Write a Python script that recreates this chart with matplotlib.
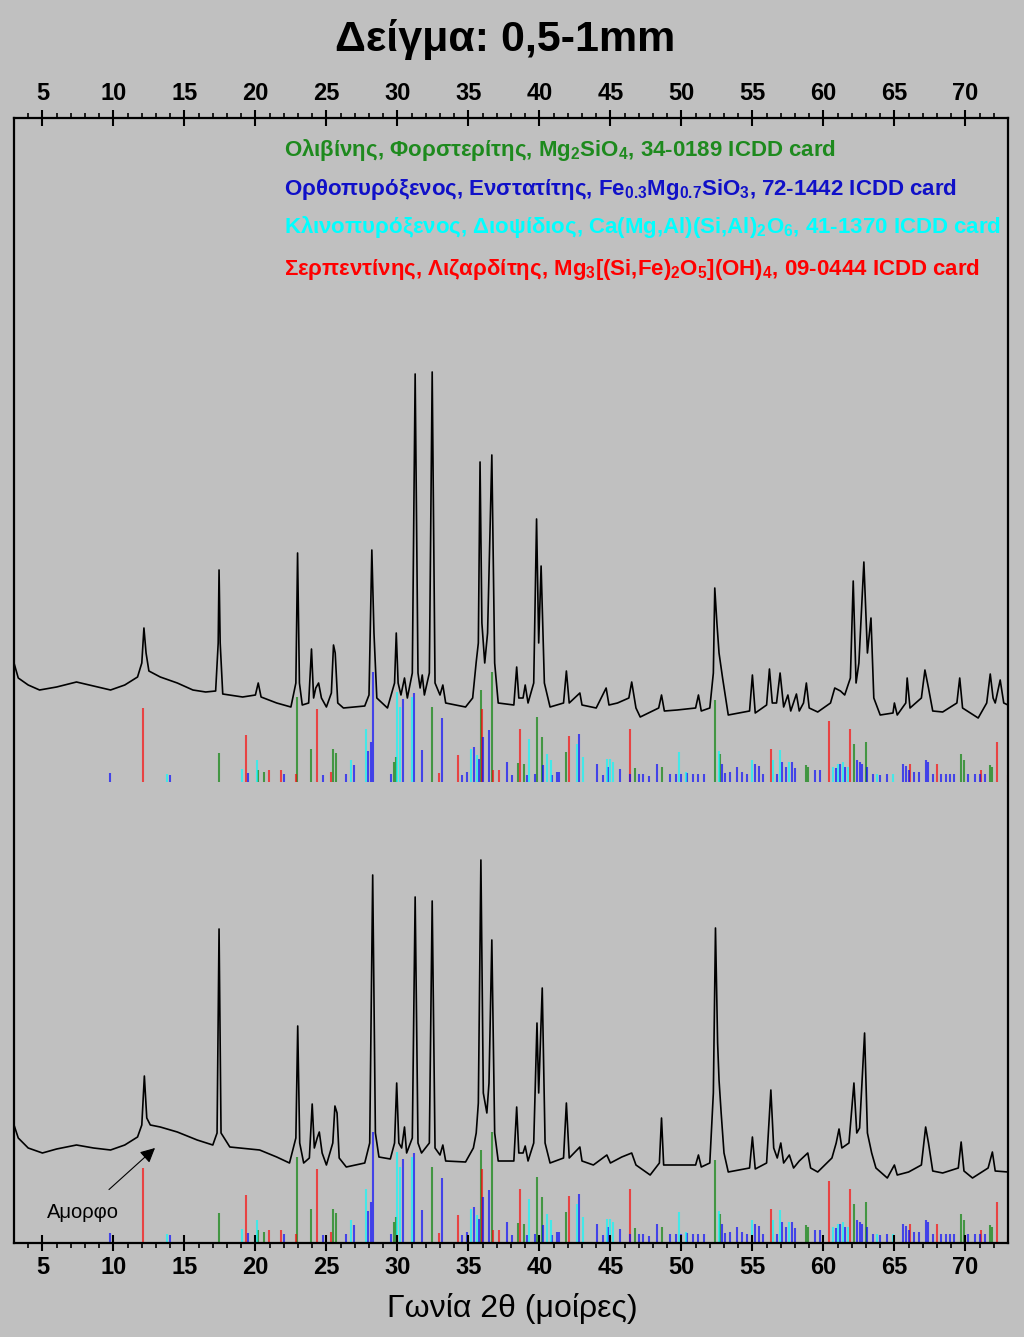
import numpy as np
from matplotlib import pyplot as plt

plt.rcParams['font.family'] = ['Liberation Sans', 'DejaVu Sans']
plt.rcParams['mathtext.default'] = 'regular'

# Diffractogram, top sample (2theta in deg, intensity in arbitrary units)
tth_top = [3.0, 3.3, 4.0, 4.8, 6.0, 7.4, 8.6, 9.8, 10.8, 11.7, 12.0, 12.15, 12.3, 12.5,
           13.3, 14.5, 15.6, 16.5, 17.2, 17.38, 17.44, 17.52, 17.7, 19.1, 20.0, 20.2, 20.4,
           21.5, 22.5, 22.85, 22.97, 23.1, 23.3, 23.75, 23.95, 24.1, 24.25, 24.45, 24.65,
           25.0, 25.35, 25.5, 25.62, 25.8, 26.2, 27.7, 28.0, 28.2, 28.35, 28.55, 29.3, 29.8,
           29.92, 30.05, 30.25, 30.5, 30.7, 31.05, 31.25, 31.45, 31.6, 31.75, 31.9, 32.25,
           32.45, 32.65, 33.0, 33.2, 33.4, 34.8, 35.3, 35.55, 35.7, 35.82, 35.95, 36.15,
           36.35, 36.65, 36.85, 37.1, 38.2, 38.4, 38.55, 38.85, 39.0, 39.2, 39.6, 39.8,
           39.95, 40.12, 40.35, 40.75, 41.7, 41.9, 42.1, 42.85, 43.0, 44.0, 44.7, 44.9,
           45.5, 46.3, 46.5, 46.8, 47.1, 48.4, 48.6, 48.8, 49.7, 51.0, 51.2, 51.4, 52.0,
           52.25, 52.35, 52.5, 52.65, 52.9, 53.3, 54.8, 55.0, 55.2, 56.0, 56.2, 56.4, 56.7,
           56.95, 57.2, 57.5, 57.7, 58.1, 58.3, 58.6, 58.8, 59.0, 59.6, 60.5, 60.8, 61.2,
           61.5, 61.9, 62.1, 62.3, 62.5, 62.85, 63.1, 63.35, 63.55, 64.0, 64.9, 65.0, 65.2,
           65.8, 65.9, 66.1, 66.9, 67.15, 67.4, 67.7, 68.4, 69.4, 69.6, 69.8, 70.9, 71.5,
           71.75, 71.95, 72.1, 72.45, 72.7, 73.0]
int_top = [580, 565, 558, 553, 556, 561, 557, 553, 558, 566, 580, 615, 590, 572,
           566, 560, 553, 551, 552, 600, 673, 600, 549, 546, 548, 560, 546,
           540, 536, 560, 690, 560, 538, 540, 594, 545, 555, 560, 545,
           536, 550, 598, 590, 540, 535, 537, 548, 693, 610, 545, 535, 560,
           610, 560, 548, 565, 545, 570, 869, 570, 555, 568, 548, 570,
           871, 560, 548, 558, 540, 536, 545, 581, 600, 781, 620, 580,
           610, 788, 580, 540, 538, 576, 545, 545, 558, 540, 560, 724,
           600, 677, 560, 536, 540, 572, 540, 550, 538, 535, 555, 538,
           540, 545, 561, 535, 526, 535, 548, 532, 533, 535, 548, 532, 535,
           570, 655, 620, 590, 565, 528, 532, 568, 530, 538, 574, 540, 540,
           570, 536, 548, 532, 549, 532, 540, 560, 535, 531, 540, 555, 552,
           548, 565, 662, 560, 580, 681, 590, 625, 545, 528, 530, 540, 528,
           540, 565, 535, 545, 573, 555, 532, 531, 540, 565, 535, 525, 540,
           569, 545, 540, 563, 540, 538]

# Diffractogram, bottom sample
tth_bot = [3.0, 3.3, 4.0, 5.0, 6.0, 7.4, 8.6, 9.8, 10.8, 11.7, 12.0, 12.18, 12.35, 12.6,
           13.3, 14.5, 15.9, 17.0, 17.3, 17.44, 17.58, 18.2, 20.3, 21.5, 22.4, 22.85, 22.98,
           23.12, 23.4, 23.8, 24.0, 24.15, 24.35, 24.5, 24.7, 25.0, 25.45, 25.6, 25.75, 25.9,
           26.4, 27.7, 28.05, 28.26, 28.45, 28.7, 29.5, 29.8, 29.95, 30.1, 30.3, 30.5, 30.65,
           31.05, 31.25, 31.45, 31.7, 32.25, 32.45, 32.65, 33.0, 33.2, 33.4, 34.8, 35.35,
           35.55, 35.7, 35.88, 36.05, 36.3, 36.45, 36.65, 36.85, 37.1, 38.2, 38.4, 38.55,
           38.85, 39.0, 39.2, 39.6, 39.83, 39.95, 40.2, 40.4, 40.75, 41.7, 41.9, 42.1, 42.85,
           43.0, 43.8, 44.75, 45.0, 45.8, 46.5, 46.8, 47.8, 48.45, 48.6, 48.75, 49.7, 51.0,
           51.2, 51.4, 52.0, 52.25, 52.4, 52.55, 52.65, 52.8, 53.0, 53.3, 54.8, 55.0, 55.2,
           56.0, 56.3, 56.5, 56.75, 57.0, 57.2, 57.6, 57.9, 58.3, 58.9, 59.1, 59.6, 60.6,
           60.9, 61.1, 61.3, 61.8, 62.15, 62.35, 62.55, 62.9, 63.1, 63.4, 63.7, 64.5, 65.0,
           65.2, 66.0, 66.9, 67.2, 67.4, 67.7, 68.4, 69.5, 69.7, 69.9, 70.5, 71.6, 71.9,
           72.1, 73.0]
int_bot = [118, 105, 95, 90, 94, 98, 95, 93, 98, 106, 118, 167, 125, 118,
           116, 111, 103, 98, 110, 314, 110, 96, 93, 86, 80, 105, 217,
           100, 80, 85, 139, 95, 105, 111, 90, 78, 100, 137, 130, 85,
           76, 80, 100, 368, 110, 86, 84, 100, 160, 100, 95, 116, 90,
           105, 346, 100, 90, 100, 342, 95, 88, 98, 82, 81, 95,
           110, 140, 383, 150, 130, 160, 303, 110, 82, 82, 136, 90,
           90, 97, 82, 100, 220, 150, 255, 100, 80, 85, 140, 85, 96,
           82, 78, 88, 80, 86, 90, 78, 68, 80, 125, 78, 78, 78,
           88, 76, 80, 150, 315, 200, 163, 130, 90, 71, 75, 106, 74,
           80, 153, 95, 85, 100, 80, 88, 75, 82, 90, 75, 71, 85,
           100, 114, 95, 100, 160, 110, 115, 210, 110, 90, 75, 65, 78,
           68, 71, 78, 116, 100, 72, 70, 75, 101, 72, 65, 75, 91,
           72, 71]

# ICDD reference lines (position, relative height)
fo_pos = [17.44, 20.2, 20.6, 22.95, 23.94, 25.49, 25.68, 29.76, 29.9, 32.44, 35.86, 36.66,
          38.47, 38.9, 39.82, 40.16, 41.9, 46.7, 48.65, 52.39, 52.75, 58.8, 58.95, 62.18,
          62.98, 69.7, 69.9, 71.76, 71.9]
fo_int = [29, 12, 10, 85, 33, 33, 29, 20, 25, 75, 92, 110,
          19, 18, 65, 45, 30, 14, 15, 82, 28, 17, 15, 38,
          40, 28, 22, 17, 15]
en_pos = [9.76, 14.0, 19.5, 22.0, 24.74, 26.4, 26.94, 27.95, 28.12, 28.26, 29.53, 30.37,
          31.17, 31.76, 33.14, 34.57, 34.9, 35.37, 35.77, 36.0, 36.43, 37.7, 38.1, 39.1,
          39.68, 40.25, 40.9, 41.25, 41.4, 42.8, 44.08, 44.5, 44.8, 45.7, 46.4, 47.0, 47.3,
          47.7, 48.3, 49.2, 49.6, 50.0, 50.4, 50.8, 51.2, 51.6, 52.84, 53.07, 53.4, 53.9,
          54.25, 54.6, 55.2, 55.5, 55.77, 56.7, 57.1, 57.4, 57.77, 58.0, 59.4, 59.76, 60.9,
          61.2, 61.5, 62.4, 62.55, 62.7, 63.1, 63.5, 64.0, 64.5, 65.6, 65.8, 66.0, 66.4,
          66.7, 67.2, 67.4, 67.7, 68.3, 68.6, 68.9, 69.2, 70.2, 70.7, 71.0, 71.4]
en_int = [9, 7, 9, 8, 7, 8, 17, 31, 40, 110, 8, 83,
          89, 32, 64, 7, 10, 35, 23, 45, 52, 20, 7, 7,
          8, 17, 7, 10, 10, 48, 18, 7, 15, 13, 8, 8, 8,
          6, 18, 8, 8, 8, 9, 8, 8, 8, 18, 9, 10, 15,
          10, 8, 18, 16, 8, 8, 20, 15, 20, 14, 12, 12, 14,
          18, 15, 22, 20, 18, 15, 8, 7, 8, 18, 16, 12, 10,
          10, 22, 20, 8, 8, 8, 8, 8, 8, 8, 8, 8]
di_pos = [13.8, 19.07, 20.1, 26.73, 27.77, 29.95, 30.15, 31.0, 35.2, 35.58, 39.24, 40.55,
          40.8, 42.67, 43.1, 44.75, 45.0, 45.2, 49.85, 50.3, 52.67, 55.0, 56.45, 56.94,
          57.6, 60.7, 61.0, 61.4, 61.7, 63.8, 64.9]
di_int = [8, 13, 22, 22, 53, 90, 75, 85, 33, 27, 43, 28,
          22, 38, 25, 23, 23, 20, 30, 10, 31, 22, 22, 32,
          20, 15, 18, 20, 15, 8, 8]
li_pos = [12.1, 19.35, 20.96, 21.78, 22.86, 24.36, 25.3, 32.95, 34.25, 35.93, 36.76, 37.13,
          38.63, 42.1, 46.35, 56.3, 60.4, 61.9, 66.1, 68.0, 71.1, 72.2, 72.98]
li_int = [74, 47, 12, 12, 8, 73, 10, 9, 27, 73, 12, 12,
          53, 46, 53, 33, 61, 53, 18, 18, 12, 40, 7]

stick_base = [461, 1]

legend_lines = [
    (r"Ολιβίνης, Φορστερίτης, Mg$_2$SiO$_4$, 34-0189 ICDD card", '#1e8a1e', 156),
    (r"Ορθοπυρόξενος, Ενστατίτης, Fe$_{0.3}$Mg$_{0.7}$SiO$_3$, 72-1442 ICDD card", '#1010c8', 195),
    (r"Κλινοπυρόξενος, Διοψίδιος, Ca(Mg,Al)(Si,Al)$_2$O$_6$, 41-1370 ICDD card", '#00ffff', 233),
    (r"Σερπεντίνης, Λιζαρδίτης, Mg$_3$[(Si,Fe)$_2$O$_5$](OH)$_4$, 09-0444 ICDD card", '#ff0000', 275),
]

bg = '#c0c0c0'
fig = plt.figure(figsize=(10.24, 13.37), dpi=100, facecolor=bg)
ax = fig.add_axes([14/1024, 1-1243/1337, 994/1024, 1125/1337])
ax.set_facecolor(bg)

phases = [(fo_pos, fo_int, '#008000'), (li_pos, li_int, '#ff0000'),
          (en_pos, en_int, '#0000ff'), (di_pos, di_int, '#00ffff')]
for base in stick_base:
    for pos, inten, col in phases:
        ax.vlines(pos, base, base + np.array(inten), colors=col, lw=1.5, alpha=0.65, zorder=1)

ax.plot(tth_top, int_top, color='black', lw=1.2, zorder=3)
ax.plot(tth_bot, int_bot, color='black', lw=1.2, zorder=3)

ax.set_xlim(3, 73)
ax.set_ylim(0, 1125)
ax.set_xticks(np.arange(5, 71, 5))
ax.set_xticks(np.arange(4, 73, 1), minor=True)
ax.set_yticks([])
ax.tick_params(axis='x', which='major', direction='inout', length=12, width=1.5,
               top=True, bottom=True, labeltop=True, labelbottom=True, pad=3,
               labelsize=17)
ax.tick_params(axis='x', which='minor', direction='out', length=3.5, width=1.2,
               top=True, bottom=True)
for lab in ax.get_xticklabels():
    lab.set_fontweight('bold')
for sp in ax.spines.values():
    sp.set_linewidth(1.6)

for txt, col, py in legend_lines:
    fig.text(284/1024, 1 - py/1337, txt, color=col, fontsize=16, fontweight='bold',
             ha='left', va='baseline')

ax.annotate('Αμορφο', xy=(12.93, 95), xytext=(7.86, 30), fontsize=14.5,
            ha='center', va='center',
            arrowprops=dict(arrowstyle='-|>', color='black', lw=0.8,
                            mutation_scale=22, shrinkA=12, shrinkB=0))

fig.text(505/1024, 1 - 40/1337, 'Δείγμα: 0,5-1mm', fontsize=31, fontweight='bold',
         ha='center', va='center')
fig.text(512/1024, 1 - 1308/1337, 'Γωνία 2θ (μοίρες)', fontsize=23,
         ha='center', va='center')

fig.savefig('out.png', dpi=100, facecolor=bg)
